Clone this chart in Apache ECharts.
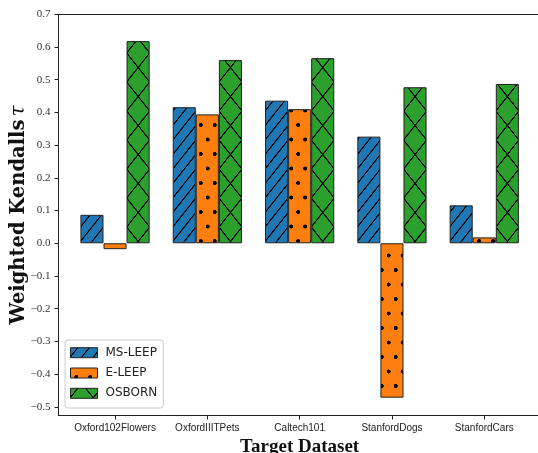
<!DOCTYPE html>
<html><head><meta charset="utf-8">
<script src="https://cdn.jsdelivr.net/npm/echarts@6/dist/echarts.min.js"></script>
<style>html,body{margin:0;padding:0;background:#fff}#c{width:538px;height:453px}</style>
</head><body><div id="c"></div>
<script>
// ---- data ----
const categories = ['Oxford102Flowers', 'OxfordIIITPets', 'Caltech101', 'StanfordDogs', 'StanfordCars'];
const seriesNames = ['MS-LEEP', 'E-LEEP', 'OSBORN'];
const msLeep = [0.087, 0.416, 0.436, 0.326, 0.116];
const eLeep  = [-0.018, 0.394, 0.410, -0.472, 0.018];
const osborn = [0.618, 0.560, 0.566, 0.477, 0.487];
const yTicks = [-0.5, -0.4, -0.3, -0.2, -0.1, 0.0, 0.1, 0.2, 0.3, 0.4, 0.5, 0.6, 0.7];

// ---- hatch patterns (matplotlib style) ----
function hatch(kind, base) {
  const c = document.createElement('canvas');
  let w, h, px, py, ox, oy;
  if (kind === 'x') { px = 23.075; py = 29; w = 92; h = 116; ox = 126.6; oy = 82; }
  else if (kind === '/') { px = 11.5375; py = 14.5; w = 46; h = 58; ox = 126.6; oy = 82; }
  else { px = 13.92; py = 29; w = 56; h = 116; ox = 381.7; oy = 299; }
  c.width = w; c.height = h;
  const g = c.getContext('2d');
  g.fillStyle = base; g.fillRect(0, 0, w, h);
  g.strokeStyle = '#000'; g.fillStyle = '#000'; g.lineWidth = 4.8;
  if (kind === 'x' || kind === '/') {
    for (let k = -1; k <= 1; k++) { g.beginPath(); g.moveTo(k * w, h); g.lineTo((k + 1) * w, 0); g.stroke(); }
  }
  if (kind === 'x') {
    for (let k = -1; k <= 1; k++) { g.beginPath(); g.moveTo(k * w, 0); g.lineTo((k + 1) * w, h); g.stroke(); }
  }
  if (kind === '.') {
    const r = 8;
    [[0, 0], [w, 0], [0, h], [w, h], [w / 2, h / 2]].forEach(([x, y]) => {
      g.beginPath(); g.arc(x, y, r, 0, Math.PI * 2); g.fill();
    });
  }
  return { image: c, repeat: 'repeat', x: ox, y: oy, scaleX: px / w, scaleY: py / h };
}

const colors = ['#1f77b4', '#ff7f0e', '#2ca02c'];
const kinds = ['/', '.', 'x'];
const values = [msLeep, eLeep, osborn];
const idx = categories.map((_, i) => i);

const series = seriesNames.map((name, s) => ({
  name: name,
  type: 'bar',
  barWidth: 23.075,
  barGap: '0%',
  data: values[s].map((v, i) => [idx[i], v]),
  itemStyle: { color: hatch(kinds[s], colors[s]), borderColor: '#222', borderWidth: 1 },
  emphasis: { disabled: true }
}));

const chart = echarts.init(document.getElementById('c'), null, { renderer: 'canvas' });
chart.setOption({
  animation: false,
  backgroundColor: '#fff',
  grid: { left: 58.5, right: -2.8, top: 14.3, bottom: 37.5, show: false, containLabel: false, outerBoundsMode: 'none' },
  legend: {
    orient: 'vertical', left: 65, top: 340,
    data: seriesNames,
    itemWidth: 27, itemHeight: 10, itemGap: 6.3,
    icon: 'rect',
    padding: [5.7, 6, 7.7, 5],
    borderColor: '#cccccc', borderWidth: 1, borderRadius: 3,
    backgroundColor: 'rgba(255,255,255,0.8)',
    itemStyle: { borderColor: '#222', borderWidth: 1 },
    textStyle: { fontFamily: 'DejaVu Sans', fontSize: 12, color: '#222', lineHeight: 14, padding: [0, 0, 0, 3] }
  },
  xAxis: [{
    type: 'value', min: -0.6125, max: 4.6125, position: 'bottom',
    axisLine: { onZero: false, lineStyle: { color: '#222', width: 1 } },
    axisTick: { customValues: idx, length: 4, lineStyle: { color: '#222' } },
    axisLabel: { customValues: idx, formatter: v => categories[Math.round(v)], fontFamily: 'Liberation Sans', fontSize: 10, color: '#222', margin: 8 },
    splitLine: { show: false },
    name: 'Target Dataset', nameLocation: 'middle', nameGap: 22, nameMoveOverlap: false,
    nameTextStyle: { fontFamily: 'Liberation Serif', fontWeight: 'bold', fontSize: 19, color: '#111' }
  }, {
    type: 'value', min: -0.6125, max: 4.6125, position: 'top',
    axisLine: { show: true, onZero: false, lineStyle: { color: '#222', width: 1 } },
    axisTick: { show: false }, axisLabel: { show: false }, splitLine: { show: false }
  }],
  yAxis: {
    type: 'value', min: -0.5265, max: 0.7,
    axisLine: { show: true, onZero: false, lineStyle: { color: '#222', width: 1 } },
    axisTick: { show: true, customValues: yTicks, length: 4, lineStyle: { color: '#222' } },
    axisLabel: { customValues: yTicks, formatter: v => (v < -1e-9 ? '\u2212' : '') + Math.abs(v).toFixed(1), fontFamily: 'Liberation Serif', fontSize: 11, color: '#333', margin: 8 },
    splitLine: { show: false },
    name: '{b|Weighted Kendalls} {t|\u03c4}', nameLocation: 'middle', nameGap: 30, nameMoveOverlap: false,
    nameTextStyle: {
      rich: {
        b: { fontFamily: 'DejaVu Serif', fontWeight: 'bold', fontSize: 19.5, color: '#111' },
        t: { fontFamily: 'DejaVu Serif', fontStyle: 'italic', fontSize: 19.5, color: '#111' }
      }
    }
  },
  series: series
});
</script>
</body></html>
